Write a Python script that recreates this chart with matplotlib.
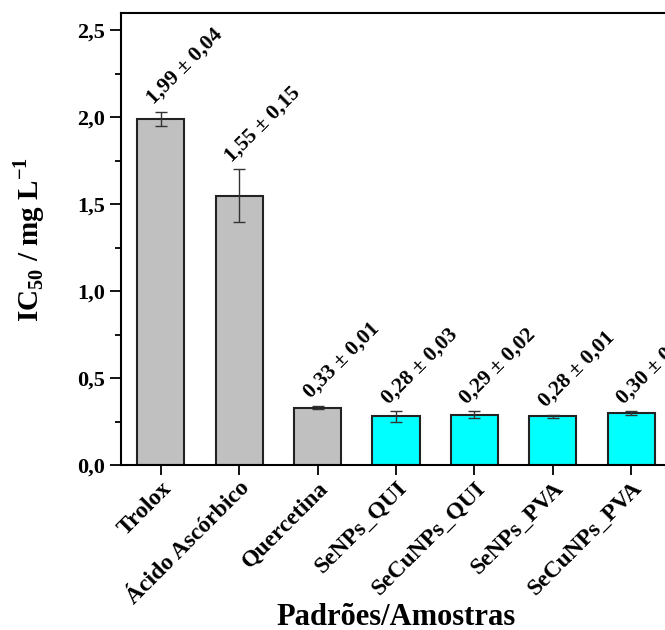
import matplotlib
matplotlib.use("Agg")
import matplotlib.pyplot as plt
from matplotlib.ticker import MultipleLocator, FuncFormatter

# Data
amostras = ["Trolox", "Ácido Ascórbico", "Quercetina", "SeNPs_QUI",
            "SeCuNPs_QUI", "SeNPs_PVA", "SeCuNPs_PVA"]
ic50 = [1.99, 1.55, 0.33, 0.28, 0.29, 0.28, 0.30]
desvio = [0.04, 0.15, 0.01, 0.03, 0.02, 0.01, 0.01]
cores = ["#C0C0C0"] * 3 + ["#00FFFF"] * 4

plt.rcParams["font.family"] = ["Liberation Serif", "DejaVu Serif"]
plt.rcParams["font.weight"] = "bold"
plt.rcParams["mathtext.fontset"] = "custom"
plt.rcParams["mathtext.rm"] = "Liberation Serif:bold"
plt.rcParams["mathtext.bf"] = "Liberation Serif:bold"

def virgula(v, pos):
    return ("%.1f" % v).replace(".", ",")

fig = plt.figure(figsize=(6.65, 6.3), dpi=100)
# axes goes past the right edge, like the original crop
ax = fig.add_axes([121 / 665, 1 - 465 / 630, (671 - 121) / 665, (465 - 13) / 630])

x = list(range(len(amostras)))
ax.bar(x, ic50, width=0.6, color=cores, edgecolor="#222222", linewidth=1.5, zorder=2)
ax.errorbar(x, ic50, yerr=desvio, fmt="none", ecolor="#333333", elinewidth=1,
            capsize=4, capthick=1, zorder=3)

for xi, v, d in zip(x, ic50, desvio):
    txt = ("%.2f ± %.2f" % (v, d)).replace(".", ",")
    ax.text(xi - 0.05, v + d + 0.02, txt, rotation=45, rotation_mode="anchor",
            ha="left", va="bottom", fontsize=15.5, fontweight="bold")

ax.set_xlim(-0.51, 6.51)
ax.set_ylim(0, 2.6)
ax.yaxis.set_major_locator(MultipleLocator(0.5))
ax.yaxis.set_minor_locator(MultipleLocator(0.25))
ax.yaxis.set_major_formatter(FuncFormatter(virgula))
ax.set_xticks(x)
ax.set_xticklabels(amostras, rotation=45, ha="right", rotation_mode="anchor",
                   fontsize=17, fontweight="bold")
ax.tick_params(axis="y", which="major", direction="out", length=8, width=1.3, labelsize=16)
ax.tick_params(axis="y", which="minor", direction="out", length=4, width=1.3)
ax.tick_params(axis="x", direction="out", length=7, width=1.3, pad=2)
for s in ax.spines.values():
    s.set_linewidth(1.5)

fig.text(396 / 665, 1 - 625 / 630, "Padrões/Amostras", ha="center", va="baseline",
         fontsize=22, fontweight="bold")
ax.set_ylabel(r"IC$_{50}$ / mg L$^{-1}$", fontsize=21, fontweight="bold", labelpad=22)

fig.savefig("out.png", dpi=100)
